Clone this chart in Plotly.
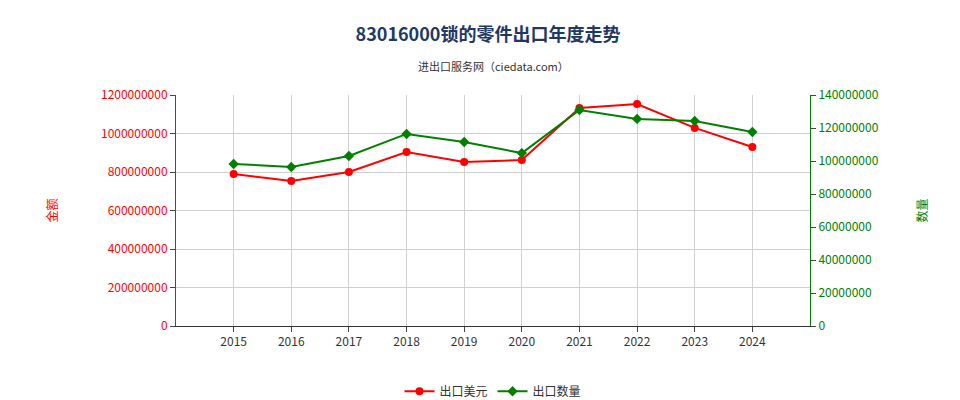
import plotly.graph_objects as go

years = [2015, 2016, 2017, 2018, 2019, 2020, 2021, 2022, 2023, 2024]
amount = [790e6, 753e6, 800e6, 904e6, 852e6, 862e6, 1132e6, 1153e6, 1029e6, 930e6]
qty = [98.2e6, 96.4e6, 103e6, 116.4e6, 111.5e6, 104.8e6, 130.9e6, 125.5e6, 124.2e6, 117.6e6]

fig = go.Figure()
fig.add_trace(go.Scatter(x=years, y=amount, name="出口美元", mode="lines+markers",
                         line=dict(color="#ff0000", width=2), marker=dict(size=8, color="#ff0000")))
fig.add_trace(go.Scatter(x=years, y=qty, name="出口数量", mode="lines+markers", yaxis="y2",
                         line=dict(color="#008000", width=2), marker=dict(size=8, color="#008000", symbol="diamond")))

fig.update_layout(
    width=960, height=400, margin=dict(l=168, r=158, t=87, b=82, autoexpand=False),
    plot_bgcolor="white", paper_bgcolor="white",
    font=dict(family="Noto Sans CJK SC, sans-serif", size=12),
    title=dict(text="<b>83016000锁的零件出口年度走势</b>", x=0.5, y=0.95, xanchor="center",
               font=dict(size=18, color="#1f3864"), automargin=False),
    annotations=[dict(text="进出口服务网（ciedata.com）", xref="paper", yref="paper", x=0.5, y=1.17,
                      showarrow=False, font=dict(size=11, color="#333"))],
    xaxis=dict(range=[2014, 2025], tickvals=years, showgrid=True, gridcolor="#d0d0d0", automargin=False,
               showline=True, linecolor="#333", ticks="outside", tickfont=dict(color="#333")),
    yaxis=dict(range=[0, 1.2e9], dtick=2e8, tickformat="d", showgrid=True, gridcolor="#d0d0d0",
               showline=True, linecolor="#ff0000", tickfont=dict(color="#ff0000"), ticks="outside",
               automargin=False, title=dict(text="金额", font=dict(color="#ff0000", size=12), standoff=40)),
    yaxis2=dict(range=[0, 1.4e8], dtick=2e7, tickformat="d", overlaying="y", side="right",
                showgrid=False, showline=True, linecolor="#008000", tickfont=dict(color="#008000"),
                ticks="outside", automargin=False,
                title=dict(text="数量", font=dict(color="#008000", size=12), standoff=40)),
    legend=dict(orientation="h", x=0.5, xanchor="center", y=-0.22, font=dict(color="#333")),
)
fig.write_html("out.html")
